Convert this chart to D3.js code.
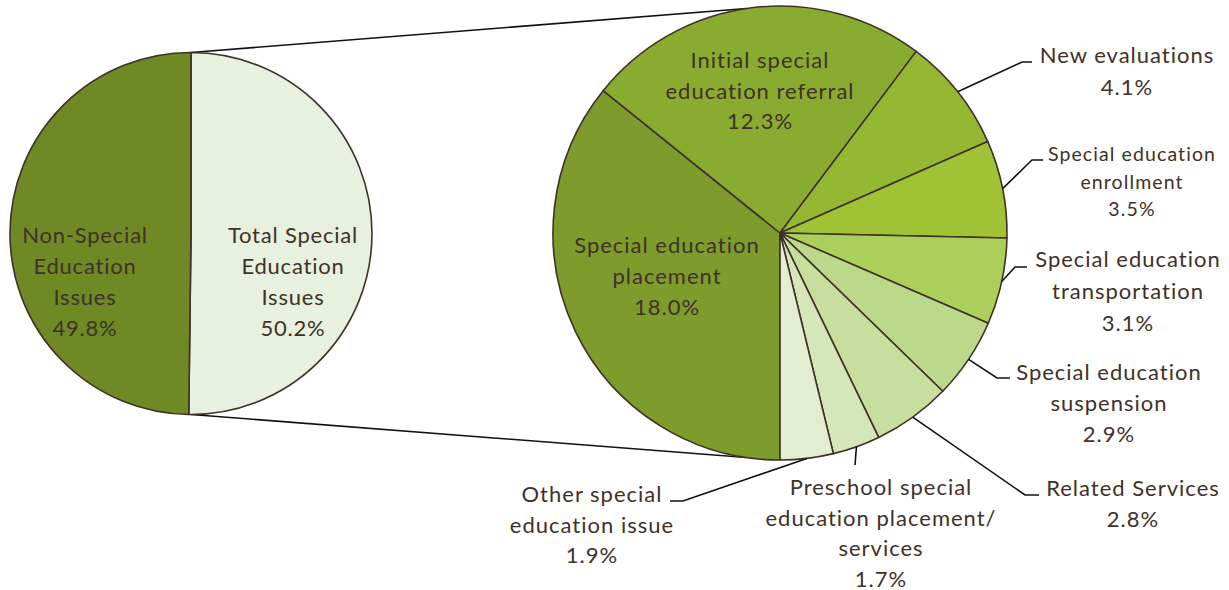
<!DOCTYPE html>
<html>
<head>
<meta charset="utf-8">
<script src="https://cdn.jsdelivr.net/npm/d3@7"></script>
<style>
  html, body { margin: 0; padding: 0; background: #ffffff; }
  svg text { font-family: Lato, "Open Sans", sans-serif; fill: #3f3128; }
</style>
</head>
<body>
<svg id="chart" width="1229" height="590"></svg>
<script>
// ---- data ----
const overviewLabels = ["Total Special\nEducation\nIssues", "Non-Special\nEducation\nIssues"];
const overviewValues = [50.2, 49.8];

const detailLabels = [
  "Special education\nplacement",
  "Initial special\neducation referral",
  "New evaluations",
  "Special education\nenrollment",
  "Special education\ntransportation",
  "Special education\nsuspension",
  "Related Services",
  "Preschool special\neducation placement/\nservices",
  "Other special\neducation issue"
];
const detailValues = [18.0, 12.3, 4.1, 3.5, 3.1, 2.9, 2.8, 1.7, 1.9];

// ---- styles / layout ----
const overviewColors = ["#e8f1df", "#6f8925"];
const detailColors = ["#7d9c2b", "#89ab2f", "#95b834", "#a0c335", "#acce5a",
                      "#bcd88a", "#c6df9e", "#d5e6b8", "#e2eecf"];
const stroke = "#3f3128";
const fmt = v => d3.format(".1f")(v) + "%";

const svg = d3.select("#chart");

const L = { cx: 191, cy: 233.5, r: 181 };
const R = { cx: 780, cy: 233, r: 227 };

// connector lines (drawn first, behind pies)
const tA = -8.5 * Math.PI / 180, bA = Math.PI + 8.5 * Math.PI / 180;
svg.append("line")
  .attr("x1", L.cx).attr("y1", L.cy - L.r)
  .attr("x2", R.cx + R.r * Math.sin(tA)).attr("y2", R.cy - R.r * Math.cos(tA))
  .attr("stroke", "#111").attr("stroke-width", 1.6);
svg.append("line")
  .attr("x1", L.cx).attr("y1", L.cy + L.r)
  .attr("x2", R.cx + R.r * Math.sin(bA)).attr("y2", R.cy - R.r * Math.cos(bA))
  .attr("stroke", "#111").attr("stroke-width", 1.6);

// ---- overview pie ----
const pieL = d3.pie().sort(null).startAngle(0).endAngle(2 * Math.PI);
const arcL = d3.arc().innerRadius(0).outerRadius(L.r);
const gL = svg.append("g").attr("transform", `translate(${L.cx},${L.cy})`);
gL.selectAll("path").data(pieL(overviewValues)).join("path")
  .attr("d", arcL)
  .attr("fill", (d, i) => overviewColors[i])
  .attr("stroke", stroke).attr("stroke-width", 1.6).attr("stroke-linejoin", "round");

const overviewText = [
  { x: 293, y: 243, size: 22, ls: 0.8 },
  { x: 85, y: 243, size: 22, ls: 0.8 }
];
overviewValues.forEach((v, i) => {
  const lines = overviewLabels[i].split("\n").concat([fmt(v)]);
  const t = svg.append("text").attr("text-anchor", "middle")
    .attr("font-size", overviewText[i].size)
    .attr("letter-spacing", overviewText[i].ls);
  lines.forEach((ln, j) => t.append("tspan").attr("x", overviewText[i].x)
    .attr("y", overviewText[i].y + j * 31).text(ln));
});

// ---- detail pie ----
const pieR = d3.pie().sort(null).startAngle(Math.PI).endAngle(3 * Math.PI);
const arcR = d3.arc().innerRadius(0).outerRadius(R.r);
const gR = svg.append("g").attr("transform", `translate(${R.cx},${R.cy})`);
const arcs = pieR(detailValues);
gR.selectAll("path").data(arcs).join("path")
  .attr("d", arcR)
  .attr("fill", (d, i) => detailColors[i])
  .attr("stroke", stroke).attr("stroke-width", 1.6).attr("stroke-linejoin", "round");

// label layout: inside labels have no leader; outside have elbow + end point
const detailText = [
  { x: 667, y: 253, size: 22, lh: 31 },
  { x: 760, y: 68, size: 22, lh: 30.5 },
  { x: 1127, y: 63, size: 22, lh: 32, elbow: [1022, 62], end: 1032 },
  { x: 1132, y: 161, size: 19.5, lh: 27.5, elbow: [1032, 160], end: 1043, ls: 1.1 },
  { x: 1128, y: 267, size: 22, lh: 32, elbow: [1015, 267], end: 1027 },
  { x: 1109, y: 380, size: 22, lh: 31, elbow: [997, 378], end: 1010 },
  { x: 1133, y: 496, size: 22, lh: 31, elbow: [1025, 495], end: 1039 },
  { x: 881, y: 495, size: 22, lh: 30.5, elbow: [855, 465], end: 855 },
  { x: 592, y: 502, size: 22, lh: 30.5, elbow: [683, 501], end: 670 }
];

arcs.forEach((a, i) => {
  const cfg = detailText[i];
  if (cfg.elbow) {
    const mid = (a.startAngle + a.endAngle) / 2;
    const px = R.cx + R.r * Math.sin(mid), py = R.cy - R.r * Math.cos(mid);
    svg.append("polyline")
      .attr("points", `${px},${py} ${cfg.elbow[0]},${cfg.elbow[1]} ${cfg.end},${cfg.elbow[1]}`)
      .attr("fill", "none").attr("stroke", "#111").attr("stroke-width", 1.6);
  }
  const lines = detailLabels[i].split("\n").concat([fmt(a.data)]);
  const t = svg.append("text").attr("text-anchor", "middle").attr("font-size", cfg.size)
    .attr("letter-spacing", cfg.ls || 1);
  lines.forEach((ln, j) => t.append("tspan").attr("x", cfg.x)
    .attr("y", cfg.y + j * cfg.lh).text(ln));
});
</script>
</body>
</html>
